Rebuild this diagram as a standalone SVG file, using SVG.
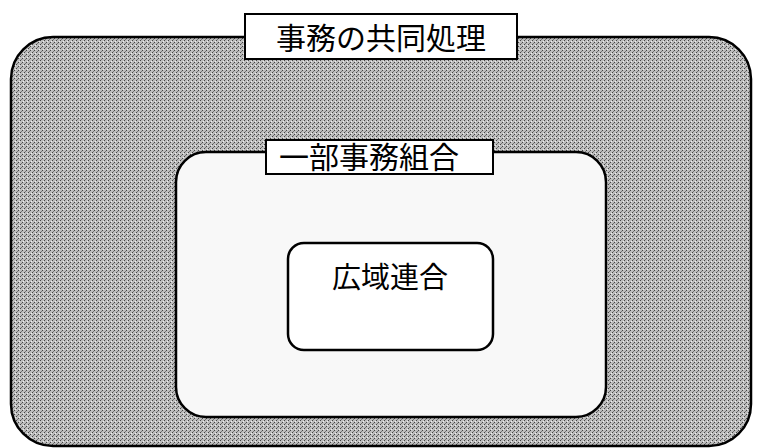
<svg xmlns="http://www.w3.org/2000/svg" width="757" height="448" viewBox="0 0 757 448">
<style>
.box{stroke:#000;stroke-width:2.5}
.lbl{fill:#fff;stroke:#000;stroke-width:2}
.t{font-family:"Noto Sans CJK JP","Noto Sans",sans-serif;fill:#000}
</style>
<defs>
<pattern id="stip" width="4" height="4" patternUnits="userSpaceOnUse">
<rect width="4" height="4" fill="#bdbdbd"/>
<rect x="0" y="0" width="1" height="1" fill="#444"/>
<rect x="2" y="2" width="1" height="1" fill="#444"/>
<rect x="1" y="3" width="1" height="1" fill="#777"/>
<rect x="3" y="1" width="1" height="1" fill="#eee"/>
</pattern>
</defs>
<rect width="757" height="448" fill="#fff"/>
<g id="outer">
<rect class="box" x="11" y="37" width="740" height="409" rx="42" fill="url(#stip)"/>
<rect class="lbl" x="245" y="14" width="272" height="45"/>
<text class="t" x="381" y="49" font-size="30" text-anchor="middle">事務の共同処理</text>
</g>
<g id="middle">
<rect class="box" x="176" y="152" width="430" height="265" rx="30" fill="#f8f8f8"/>
<rect class="lbl" x="266" y="140" width="227" height="34"/>
<text class="t" x="369" y="168" font-size="30" text-anchor="middle">一部事務組合</text>
</g>
<g id="inner">
<rect class="box" x="288" y="243" width="205" height="107" rx="16" fill="#fff"/>
<text class="t" x="390" y="288" font-size="29" text-anchor="middle">広域連合</text>
</g>
<g id="connectors"/>
</svg>
